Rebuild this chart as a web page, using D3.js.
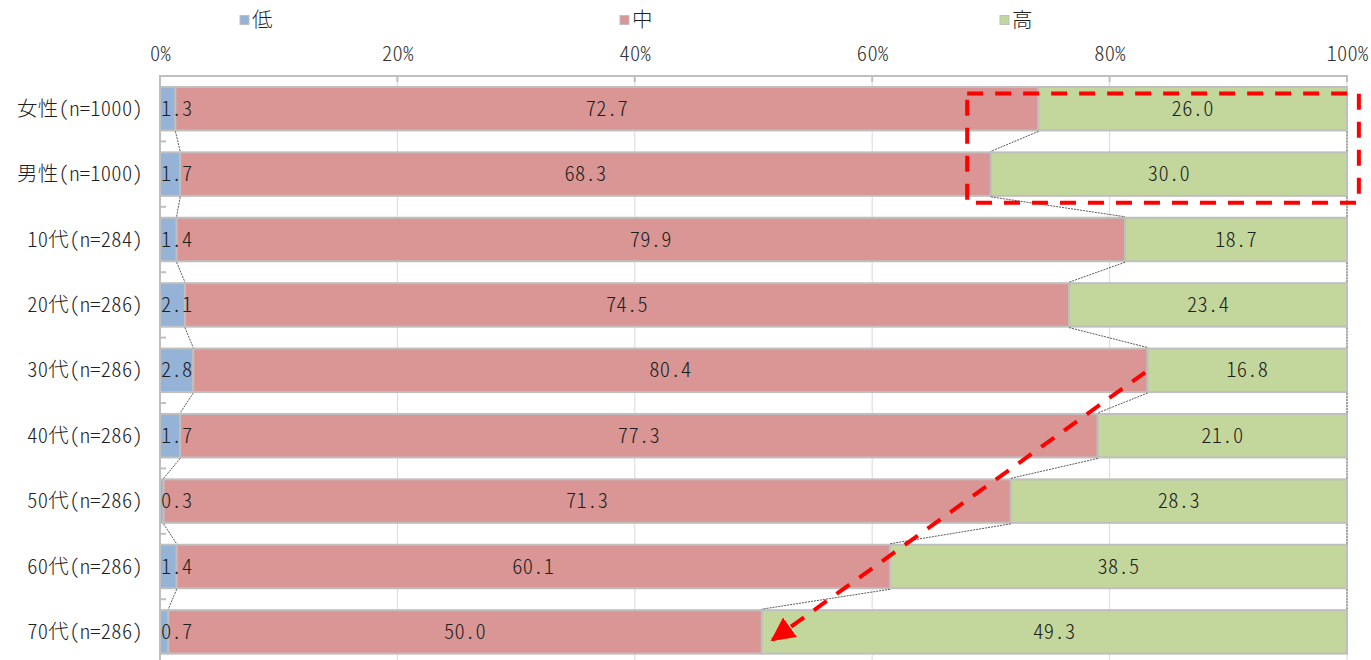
<!DOCTYPE html>
<html lang="ja">
<head>
<meta charset="utf-8">
<script src="https://cdn.jsdelivr.net/npm/d3@7/dist/d3.min.js"></script>
<style>
  html, body { margin: 0; padding: 0; background: #ffffff; }
  svg { display: block; }
  text {
    font-family: "Noto Sans CJK JP", "Noto Sans", sans-serif;
    font-feature-settings: "hwid";
    font-weight: 300;
    letter-spacing: 0.3px;
    fill: #1f1f1f;
  }
</style>
</head>
<body>
<svg id="chart" width="1371" height="660"></svg>
<script>
// Respondents by group and share of answers per level (%)
const categories = ["女性(n=1000)", "男性(n=1000)", "10代(n=284)", "20代(n=286)", "30代(n=286)",
                    "40代(n=286)", "50代(n=286)", "60代(n=286)", "70代(n=286)"];
const seriesNames = ["低", "中", "高"];
const lowValues  = [1.3, 1.7, 1.4, 2.1, 2.8, 1.7, 0.3, 1.4, 0.7];
const midValues  = [72.7, 68.3, 79.9, 74.5, 80.4, 77.3, 71.3, 60.1, 50.0];
const highValues = [26.0, 30.0, 18.7, 23.4, 16.8, 21.0, 28.3, 38.5, 49.3];
const tickValues = [0, 20, 40, 60, 80, 100];
const seriesColors = ["#95b3d7", "#d99694", "#c3d69b"];

const fontSize = 20.5;
const svg = d3.select("#chart");
const plot = { left: 160, right: 1347, top: 76 };
const step = 65.4;
plot.bottom = plot.top + step * categories.length;

// 100% stacked: each row is normalised by its own total
const rows = categories.map((c, i) => {
  const vals = [lowValues[i], midValues[i], highValues[i]];
  const total = d3.sum(vals);
  return { cat: c, vals, total };
});

const x = d3.scaleLinear().domain([0, 100]).range([plot.left, plot.right]);
const y = d3.scaleBand().domain(categories).range([plot.top, plot.bottom])
  .paddingInner(0.335).paddingOuter(0.1675);

// vertical gridlines
svg.append("g").selectAll("line").data(tickValues.filter(t => t > 0)).join("line")
  .attr("x1", d => x(d)).attr("x2", d => x(d))
  .attr("y1", plot.top).attr("y2", plot.bottom)
  .attr("stroke", "#d9d9d9").attr("stroke-width", 1);

// top value axis
const xAxis = d3.axisTop(x).tickValues(tickValues).tickFormat(d => d + "%").tickSize(0).tickPadding(0);
const gx = svg.append("g").attr("transform", `translate(0,${plot.top})`).call(xAxis);
gx.select(".domain").remove();
gx.selectAll("text").attr("y", -22).attr("dy", "0.35em").attr("font-size", fontSize)
  .attr("font-family", null).style("fill", "#333333");
svg.append("line").attr("x1", plot.left - 1).attr("x2", plot.right + 1)
  .attr("y1", plot.top).attr("y2", plot.top).attr("stroke", "#bfbfbf").attr("stroke-width", 2);
svg.append("g").selectAll("line").data(tickValues).join("line")
  .attr("x1", d => x(d)).attr("x2", d => x(d))
  .attr("y1", plot.top).attr("y2", plot.top + 6)
  .attr("stroke", "#bfbfbf").attr("stroke-width", 2);

// left category axis
svg.append("line").attr("x1", plot.left).attr("x2", plot.left)
  .attr("y1", plot.top).attr("y2", plot.bottom).attr("stroke", "#bfbfbf").attr("stroke-width", 2);
svg.append("g").selectAll("line").data(d3.range(categories.length + 1)).join("line")
  .attr("x1", plot.left).attr("x2", plot.left + 6)
  .attr("y1", i => plot.top + i * step).attr("y2", i => plot.top + i * step)
  .attr("stroke", "#bfbfbf").attr("stroke-width", 2);
svg.append("g").selectAll("text").data(categories).join("text")
  .attr("x", plot.left - 17).attr("y", d => y(d) + y.bandwidth() / 2)
  .attr("dy", "0.35em").attr("text-anchor", "end").attr("font-size", fontSize)
  .text(d => d);

// stacked segments
const segs = [];
rows.forEach(r => {
  let acc = 0;
  r.vals.forEach((v, k) => {
    const s = acc / r.total * 100, e = (acc + v) / r.total * 100;
    segs.push({ cat: r.cat, k, v, s, e });
    acc += v;
  });
});
svg.append("g").selectAll("rect").data(segs).join("rect")
  .attr("x", d => x(d.s)).attr("width", d => x(d.e) - x(d.s))
  .attr("y", d => y(d.cat)).attr("height", y.bandwidth())
  .attr("fill", d => seriesColors[d.k])
  .attr("stroke", "#bfbfbf").attr("stroke-width", 2);

// series lines joining segment ends between neighbouring bars
const links = [];
for (let i = 0; i < rows.length - 1; i++) {
  const a = segs.filter(d => d.cat === rows[i].cat);
  const b = segs.filter(d => d.cat === rows[i + 1].cat);
  for (let k = 0; k < 3; k++) links.push({ x1: a[k].e, x2: b[k].e, c1: rows[i].cat, c2: rows[i + 1].cat });
}
svg.append("g").selectAll("line").data(links).join("line")
  .attr("x1", d => x(d.x1)).attr("x2", d => x(d.x2))
  .attr("y1", d => y(d.c1) + y.bandwidth() + 1).attr("y2", d => y(d.c2) - 1)
  .attr("stroke", "#595959").attr("stroke-width", 1).attr("stroke-dasharray", "2,1");

// value labels, centred in each segment but kept inside the plot area
const labels = svg.append("g").selectAll("text").data(segs).join("text")
  .attr("y", d => y(d.cat) + y.bandwidth() / 2).attr("dy", "0.35em")
  .attr("font-size", fontSize).attr("text-anchor", "middle")
  .text(d => d.v.toFixed(1));
labels.each(function (d) {
  const w = this.getComputedTextLength();
  let cx = (x(d.s) + x(d.e)) / 2;
  cx = Math.max(cx, plot.left + 1 + w / 2);
  d3.select(this).attr("x", cx);
});

// legend
const legend = svg.append("g").selectAll("g").data(seriesNames).join("g")
  .attr("transform", (d, i) => `translate(${240 + i * 380},20)`);
legend.append("rect").attr("x", 0).attr("y", -4.5).attr("width", 9).attr("height", 9)
  .attr("fill", (d, i) => seriesColors[i]).attr("stroke", "#bfbfbf").attr("stroke-width", 1);
legend.append("text").attr("x", 12).attr("dy", "0.35em").attr("font-size", fontSize).text(d => d);

// annotations: highlight box and trend arrow
const red = "#ff0000";
const boxX1 = x(68.0), boxX2 = x(101.0);
const boxY1 = y(categories[0]) + 6.5, boxY2 = y(categories[1]) + y.bandwidth() + 7;
svg.append("rect").attr("x", boxX1).attr("y", boxY1)
  .attr("width", boxX2 - boxX1).attr("height", boxY2 - boxY1)
  .attr("fill", "none").attr("stroke", red).attr("stroke-width", 4)
  .attr("stroke-dasharray", "16,12");

const defs = svg.append("defs");
defs.append("marker").attr("id", "arrowHead").attr("viewBox", "0 0 10 10")
  .attr("refX", 9).attr("refY", 5).attr("markerWidth", 6).attr("markerHeight", 6)
  .attr("markerUnits", "strokeWidth").attr("orient", "auto")
  .append("path").attr("d", "M0,0 L10,5 L0,10 Z").attr("fill", red);
const a0 = [x(83.0), y(categories[4]) + y.bandwidth() / 2 + 2];
const a1 = [x(51.6), y(categories[8]) + y.bandwidth() / 2 + 8];
svg.append("line").attr("x1", a0[0]).attr("y1", a0[1]).attr("x2", a1[0]).attr("y2", a1[1])
  .attr("stroke", red).attr("stroke-width", 4).attr("stroke-dasharray", "16,12")
  .attr("marker-end", "url(#arrowHead)");
</script>
</body>
</html>
